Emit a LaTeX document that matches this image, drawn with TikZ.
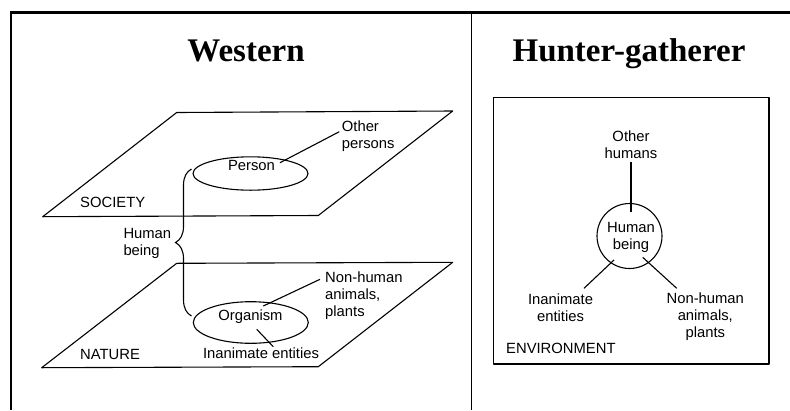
\documentclass[tikz,border=0pt]{standalone}
\usepackage{fontspec}
\setmainfont{Liberation Serif}
\setsansfont{Liberation Sans}
\usetikzlibrary{shapes.geometric, decorations.pathreplacing}
\tikzstyle{heading} = [font=\rmfamily\bfseries\fontsize{33}{36}\selectfont, inner sep=0]
\tikzstyle{txt} = [font=\sffamily\fontsize{14.8}{16.7}\selectfont, inner sep=0]
\tikzstyle{oval} = [ellipse, draw=black, line width=1.1pt, minimum width=115, inner sep=0]
\tikzstyle{ring} = [circle, draw=black, line width=1.1pt, minimum size=65, inner sep=0]
\tikzstyle{plane} = [draw=black, line width=1.1pt, line join=round]
\tikzstyle{link} = [line width=1.1pt]

\begin{document}
\begin{tikzpicture}[x=1pt, y=-1pt]
        \useasboundingbox (0,0) rectangle (790,410);
        \fill[white] (0,0) rectangle (790,410);

        % frame
        \draw[line width=2.7pt] (10,12.7) -- (790,12.7);
        \draw[line width=2pt] (11,11.5) -- (11,410);
        \draw[line width=1.2pt] (471.7,12.7) -- (471.7,410);

        \node (Western) [heading, anchor=base] at (246,61.7) {Western};
        \node (Hunter) [heading, anchor=base] at (629,61) {Hunter-gatherer};

        % western: two planes
        \draw[plane] (176.7,112.5) -- (452.7,111) -- (318.3,215.5) -- (42.7,216.7) -- cycle;
        \draw[plane] (176.7,263.3) -- (452.7,262.3) -- (318.3,366.7) -- (41.7,367.7) -- cycle;

        \node (Society) [txt, anchor=west] at (80,202.7) {SOCIETY};
        \node (Nature) [txt, anchor=west] at (80,354) {NATURE};

        \node (PersonOval) [oval, minimum height=33.4] at (250.5,173.5) {};
        \node (Person) [txt, anchor=base] at (251.5,170.7) {Person};
        \node (OtherPersons) [txt, anchor=west, align=left] at (341.7,136) {Other\\persons};

        \node (OrganismOval) [oval, minimum height=41.6] at (250.8,322.5) {};
        \node (Organism) [txt, anchor=base] at (250.5,320.7) {Organism};
        \node (NonHuman) [txt, anchor=west, align=left] at (325,295.5) {Non-human\\animals,\\plants};
        \node (Inanimate) [txt] at (261,353.3) {Inanimate entities};

        \node (HumanBeing) [txt, anchor=west, align=left] at (123.3,243.3) {Human\\being};

        \coordinate (personEnd) at (280,162.7);
        \coordinate (otherEnd) at (339.3,131.7);
        \coordinate (orgUp) at (263.3,306);
        \coordinate (nonhEnd) at (320,279.3);
        \coordinate (orgDown) at (256.7,329.3);
        \coordinate (inanEnd) at (273.3,346.7);
        \coordinate (braceLow) at (191.5,316);
        \coordinate (braceHigh) at (191.5,169);

        \draw [link] (personEnd) -- (otherEnd);
        \draw [link] (orgUp) -- (nonhEnd);
        \draw [link] (orgDown) -- (inanEnd);
        \draw [link, decorate, decoration={brace, amplitude=16pt}] (braceLow) -- (braceHigh);

        % hunter-gatherer: one environment
        \draw[plane] (493.3,97.3) rectangle (769,364);
        \node (Environment) [txt, anchor=west] at (506,348.3) {ENVIRONMENT};

        \node (Human) [ring] at (629.5,236) {};
        \node (HumanTxt) [txt, align=center] at (631,237.5) {Human\\being};
        \node (OtherHumans) [txt, align=center] at (631,144.7) {Other\\humans};
        \node (Inanimate2) [txt, align=center] at (560.5,308) {Inanimate\\entities};
        \node (NonHuman2) [txt, align=center] at (705.3,316.7) {Non-human\\animals,\\plants};

        \coordinate (othersFoot) at (631,161.7);
        \coordinate (humanTop) at (631,211.7);
        \coordinate (humanLeft) at (614,260);
        \coordinate (inan2End) at (584,288.3);
        \coordinate (humanRight) at (642.7,257.3);
        \coordinate (nonh2End) at (676.7,288.3);

        \draw [link] (othersFoot) -- (humanTop);
        \draw [link] (humanLeft) -- (inan2End);
        \draw [link] (humanRight) -- (nonh2End);
\end{tikzpicture}
\end{document}
